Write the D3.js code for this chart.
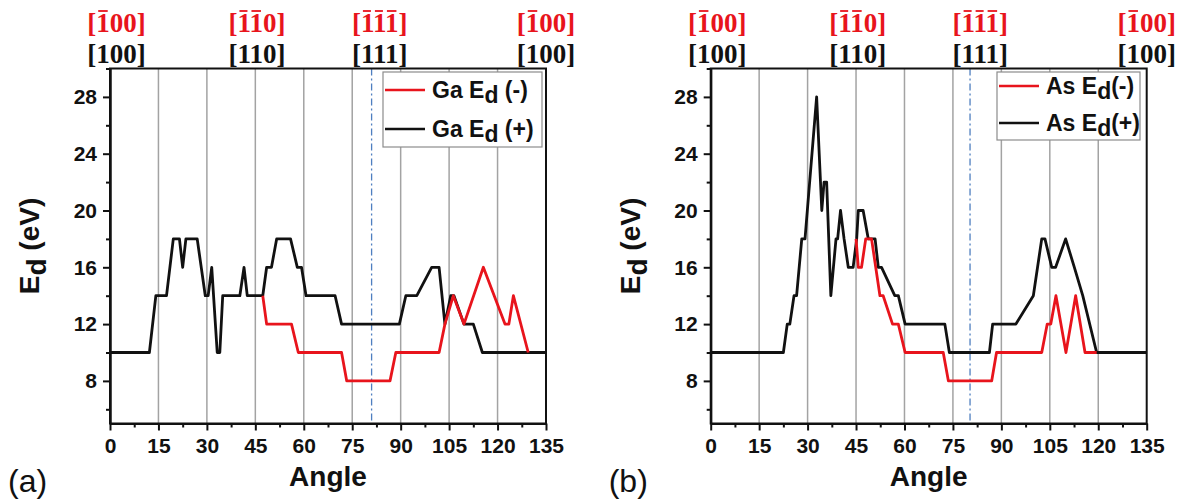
<!DOCTYPE html>
<html>
<head>
<meta charset="utf-8">
<script src="https://cdn.jsdelivr.net/npm/d3@7"></script>
<style>
  body { margin: 0; background: #fff; }
  svg { display: block; font-family: "Liberation Sans", Arial, sans-serif; }
  .tick text { font-size: 21px; font-weight: bold; fill: #111; }
</style>
</head>
<body>
<svg id="chart" width="1182" height="502"></svg>
<script>
"use strict";

// angle ticks / grid
const angleTicks = [0, 15, 30, 45, 60, 75, 90, 105, 120, 135];
const angleMinor = [7.5, 22.5, 37.5, 52.5, 67.5, 82.5, 97.5, 112.5, 127.5];
const gridAngles = [15, 30, 45, 60, 75, 90, 105, 120];
const edTicks = [8, 12, 16, 20, 24, 28];
const edMinor = [6, 10, 14, 18, 22, 26, 30];

// crystal directions along the top
const dirAngles = [2, 45.5, 83.5, 135];
const dirLabels = ["[100]", "[110]", "[111]", "[100]"];
const dirBars = [[1], [1, 2], [1, 2, 3], [1]];

// panel (a) Ga
const gaPlusAngle = [0, 12.2, 14.2, 17.5, 19.6, 21.5, 22.5, 23.5, 27.0, 29.5,
  30.4, 31.5, 33.2, 34.0, 34.9, 40.2, 41.5, 42.5, 47.3, 48.5,
  50.0, 51.6, 55.9, 58.0, 59.3, 60.7, 69.7, 71.7, 89.6, 91.6,
  95.0, 99.6, 101.9, 103.7, 105.5, 106.5, 109.6, 112.5, 115.3, 135];
const gaPlusEd = [10, 10, 14, 14, 18, 18, 16, 18, 18, 14,
  14, 16, 10, 10, 14, 14, 16, 14, 14, 16,
  16, 18, 18, 16, 16, 14, 14, 12, 12, 14,
  14, 16, 16, 12, 14, 14, 12, 12, 10, 10];
const gaMinusAngle = [47.3, 48.5, 56.2, 58.3, 71.7, 73.3, 86.7, 88.5, 101.9, 103.7,
  106.3, 109.6, 115.6, 122.3, 123.5, 124.9, 129.5];
const gaMinusEd = [14, 12, 12, 10, 10, 8, 8, 10, 10, 12,
  14, 12, 16, 12, 12, 14, 10];
const gaMarker = 81;

// panel (b) As
const asPlusAngle = [0, 22.5, 23.7, 24.5, 25.8, 26.6, 28.2, 29.2, 32.8, 34.4,
  35.1, 35.9, 37.2, 38.8, 39.3, 40.2, 41.3, 42.6, 44.1, 45.2,
  45.7, 47.2, 48.8, 50.9, 51.9, 52.9, 57.0, 58.1, 60.2, 72.5,
  73.9, 86.3, 87.3, 94.5, 99.9, 102.5, 103.5, 105.6, 106.8, 109.9,
  112.6, 115.2, 119.5, 135];
const asPlusEd = [10, 10, 12, 12, 14, 14, 18, 18, 28, 20,
  22, 22, 14, 18, 18, 20, 18, 16, 16, 18,
  20, 20, 18, 18, 16, 16, 14, 14, 12, 12,
  10, 10, 12, 12, 14, 18, 18, 16, 16, 18,
  16, 14, 10, 10];
const asMinusAngle = [45.0, 45.7, 46.7, 48.0, 49.8, 52.4, 53.4, 56.3, 58.1, 60.2,
  72.0, 73.6, 87.0, 88.5, 102.5, 104.2, 105.3, 106.9, 110.0, 113.0,
  115.9, 119.5];
const asMinusEd = [18, 16, 16, 18, 18, 14, 14, 12, 12, 10,
  10, 8, 8, 10, 10, 12, 12, 14, 10, 14,
  10, 10];
const asMarker = 80.3;

const RED = "#e8141c";
const BLACK = "#111";

function zip(a, e) {
  return a.map((v, i) => ({ angle: v, ed: e[i] }));
}

function draw() {
  const svg = d3.select("#chart");

  drawPanel(svg, {
    dx: 0,
    tag: "(a)",
    marker: gaMarker,
    minus: zip(gaMinusAngle, gaMinusEd),
    plus: zip(gaPlusAngle, gaPlusEd),
    names: [["Ga E", " (-)"], ["Ga E", " (+)"]],
    box: { x: 383, y: 72, w: 159, h: 75, rows: [90, 129] },
  });

  drawPanel(svg, {
    dx: 600.7,
    tag: "(b)",
    marker: asMarker,
    minus: zip(asMinusAngle, asMinusEd),
    plus: zip(asPlusAngle, asPlusEd),
    names: [["As E", "(-)"], ["As E", "(+)"]],
    box: { x: 396.3, y: 72, w: 143, h: 68, rows: [86, 123] },
  });
}

function drawPanel(svg, p) {
  const g = svg.append("g");
  const xScale = d3.scaleLinear()
    .domain([0, 135])
    .range([110 + p.dx, 546 + p.dx]);
  const yScale = d3.scaleLinear()
    .domain([5, 30])
    .range([423.5, 68.5]);

  g.selectAll("line.grid")
    .data(gridAngles)
    .enter()
    .append("line")
    .attr("class", "grid")
    .attr("x1", d => xScale(d))
    .attr("x2", d => xScale(d))
    .attr("y1", yScale(5))
    .attr("y2", yScale(30))
    .attr("stroke", "#a3a3a3")
    .attr("stroke-width", 1.5);

  g.append("line")
    .attr("x1", xScale(p.marker))
    .attr("x2", xScale(p.marker))
    .attr("y1", yScale(30))
    .attr("y2", yScale(5))
    .attr("stroke", "#4f7fc0")
    .attr("stroke-width", 1.3)
    .attr("stroke-dasharray", "7,3,2,3");

  const line = d3.line()
    .x(d => xScale(d.angle))
    .y(d => yScale(d.ed));

  g.append("path")
    .datum(p.plus)
    .attr("d", line)
    .attr("fill", "none")
    .attr("stroke", BLACK)
    .attr("stroke-width", 2.8)
    .attr("stroke-linejoin", "round");

  g.append("path")
    .datum(p.minus)
    .attr("d", line)
    .attr("fill", "none")
    .attr("stroke", RED)
    .attr("stroke-width", 2.8)
    .attr("stroke-linejoin", "round");

  // legend
  const bx = p.box.x + p.dx;
  g.append("rect")
    .attr("x", bx)
    .attr("y", p.box.y)
    .attr("width", p.box.w)
    .attr("height", p.box.h)
    .attr("fill", "#fff")
    .attr("stroke", "#8c8c8c")
    .attr("stroke-width", 1.2);

  [RED, BLACK].forEach((c, i) => {
    const y = p.box.rows[i];
    g.append("line")
      .attr("x1", bx + 2)
      .attr("x2", bx + 42)
      .attr("y1", y)
      .attr("y2", y)
      .attr("stroke", c)
      .attr("stroke-width", 2.6);
    const t = g.append("text")
      .attr("x", bx + 49)
      .attr("y", y + 7.5)
      .attr("font-size", 23)
      .attr("font-weight", "bold")
      .attr("fill", "#111");
    t.append("tspan").text(p.names[i][0]);
    t.append("tspan").attr("dy", 5).text("d");
    t.append("tspan").attr("dy", -5).text(p.names[i][1]);
  });

  // frame
  g.append("rect")
    .attr("x", xScale(0))
    .attr("y", yScale(30))
    .attr("width", xScale(135) - xScale(0))
    .attr("height", yScale(5) - yScale(30))
    .attr("fill", "none")
    .attr("stroke", BLACK)
    .attr("stroke-width", 2);

  const xAxis = g.append("g")
    .attr("transform", `translate(0, ${yScale(5)})`)
    .call(d3.axisBottom(xScale).tickValues(angleTicks).tickSize(7).tickSizeOuter(0).tickPadding(8));
  const xMinor = g.append("g")
    .attr("transform", `translate(0, ${yScale(5)})`)
    .call(d3.axisBottom(xScale).tickValues(angleMinor).tickSize(4).tickSizeOuter(0).tickFormat(""));
  const yAxis = g.append("g")
    .attr("transform", `translate(${xScale(0)}, 0)`)
    .call(d3.axisLeft(yScale).tickValues(edTicks).tickSize(7).tickSizeOuter(0).tickPadding(6));
  const yMinor = g.append("g")
    .attr("transform", `translate(${xScale(0)}, 0)`)
    .call(d3.axisLeft(yScale).tickValues(edMinor).tickSize(4).tickSizeOuter(0).tickFormat(""));

  [xAxis, xMinor, yAxis, yMinor].forEach(a => {
    a.attr("font-family", null).attr("font-size", null);
    a.select(".domain").attr("stroke", BLACK).attr("stroke-width", 2);
    a.selectAll(".tick line").attr("stroke", BLACK).attr("stroke-width", 2);
  });

  // axis titles
  g.append("text")
    .attr("x", (xScale(0) + xScale(135)) / 2)
    .attr("y", 486)
    .attr("text-anchor", "middle")
    .attr("font-size", 28)
    .attr("font-weight", "bold")
    .attr("fill", "#111")
    .text("Angle");

  const yt = g.append("text")
    .attr("transform", `translate(${39 + p.dx}, ${yScale(17.5)}) rotate(-90)`)
    .attr("text-anchor", "middle")
    .attr("font-size", 28)
    .attr("font-weight", "bold")
    .attr("fill", "#111");
  yt.append("tspan").text("E");
  yt.append("tspan").attr("dy", 7).text("d");
  yt.append("tspan").attr("dy", -7).text(" (eV)");

  g.append("text")
    .attr("x", 8 + p.dx)
    .attr("y", 492)
    .attr("font-size", 32)
    .attr("fill", "#111")
    .text(p.tag);

  // crystal direction labels
  dirAngles.forEach((a, i) => {
    g.append("text")
      .attr("x", xScale(a))
      .attr("y", 63)
      .attr("text-anchor", "middle")
      .attr("font-family", "Liberation Serif, serif")
      .attr("font-size", 27)
      .attr("font-weight", "bold")
      .attr("fill", "#111")
      .text(dirLabels[i]);

    const red = g.append("text")
      .attr("x", xScale(a))
      .attr("y", 32)
      .attr("text-anchor", "middle")
      .attr("font-family", "Liberation Serif, serif")
      .attr("font-size", 27)
      .attr("font-weight", "bold")
      .attr("fill", RED)
      .text(dirLabels[i]);

    const node = red.node();
    dirBars[i].forEach(k => {
      const box = node.getExtentOfChar(k);
      g.append("line")
        .attr("x1", box.x + 2)
        .attr("x2", box.x + box.width - 2)
        .attr("y1", 11)
        .attr("y2", 11)
        .attr("stroke", RED)
        .attr("stroke-width", 1.8);
    });
  });
}

draw();
</script>
</body>
</html>
